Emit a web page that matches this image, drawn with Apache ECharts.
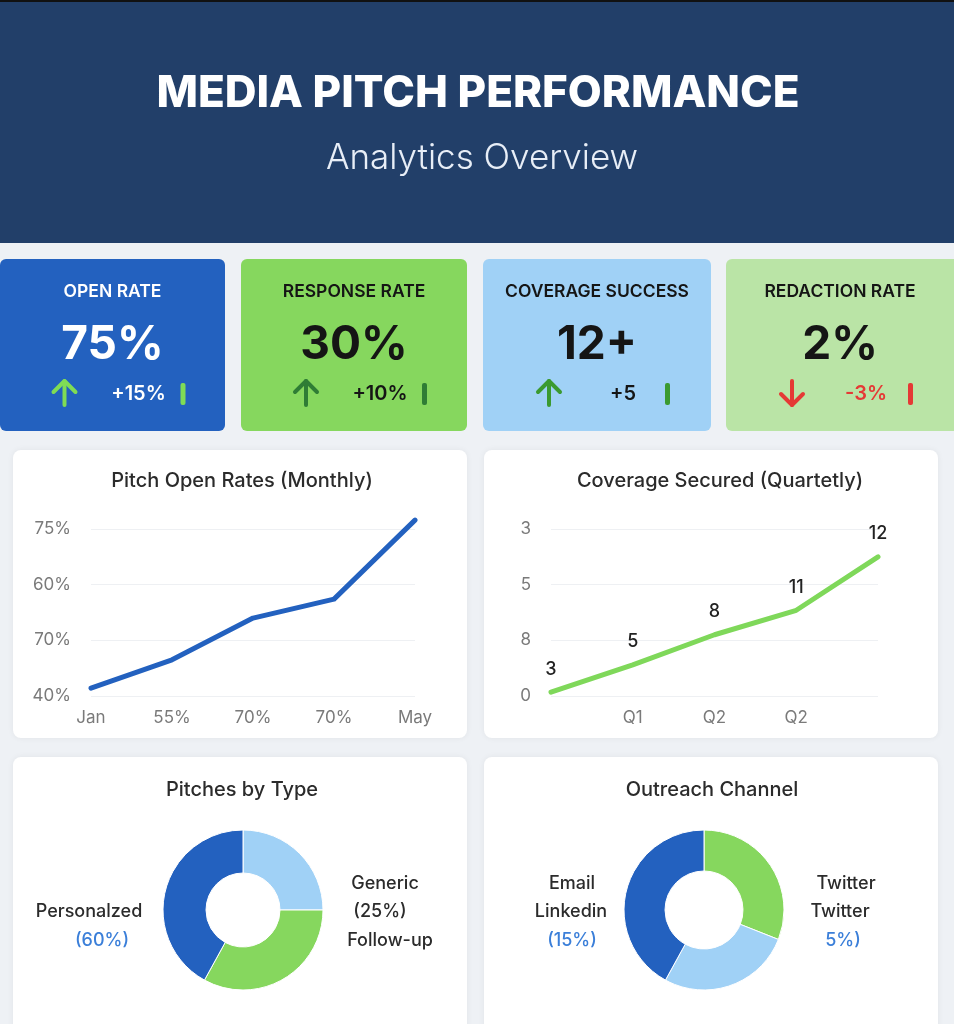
<!DOCTYPE html>
<html>
<head>
<meta charset="utf-8">
<script src="https://cdn.jsdelivr.net/npm/echarts@6/dist/echarts.min.js"></script>
<style>
  html, body { margin: 0; padding: 0; background: #eef1f5; }
  #main { width: 954px; height: 1024px; }
</style>
</head>
<body>
<div id="main"></div>
<script>
// KPI cards
var kpiLabels = ["OPEN RATE", "RESPONSE RATE", "COVERAGE SUCCESS", "REDACTION RATE"];
var kpiValues = ["75%", "30%", "12+", "2%"];
var kpiDeltas = ["+15%", "+10%", "+5", "-3%"];
var kpiUp = [true, true, true, false];

// Pitch Open Rates (Monthly)
var openMonths = ["Jan", "55%", "70%", "70%", "May"];
var openTicks = ["40%", "70%", "60%", "75%"];
var openValues = [0.14, 0.65, 1.4, 1.74, 3.16];

// Coverage Secured (Quartetly)
var coverageQuarters = ["", "Q1", "Q2", "Q2", ""];
var coverageTicks = ["0", "8", "5", "3"];
var coverageValues = [0.07, 0.56, 1.1, 1.54, 2.5];
var coverageLabels = ["3", "5", "8", "11", "12"];

// donuts
var typeNames = ["Generic", "Follow-up", "Personalized"];
var typeValues = [25, 33, 42];
var channelNames = ["Twitter", "LinkedIn", "Email"];
var channelValues = [31, 27, 42];

var FONT = "Inter, 'Noto Sans', sans-serif";
var cards = [
  { x: 0, w: 225, bg: "#2361bf", fg: "#ffffff", arrow: "#7fdc55", delta: "#ffffff", bar: "#7fdc55" },
  { x: 241, w: 226, bg: "#86d75e", fg: "#151515", arrow: "#2f7d35", delta: "#151515", bar: "#2f7d35" },
  { x: 483, w: 228, bg: "#a0d1f6", fg: "#151515", arrow: "#3b9a30", delta: "#151515", bar: "#3b9a30" },
  { x: 726, w: 240, bg: "#bae4a6", fg: "#151515", arrow: "#e53935", delta: "#e53935", bar: "#e53935" }
];

var els = [];
// header
els.push({ type: "rect", z: -10, shape: { x: 0, y: 0, width: 954, height: 243 }, style: { fill: "#223f69" } });
els.push({ type: "rect", z: -9, shape: { x: 0, y: 0, width: 954, height: 2 }, style: { fill: "#111" } });
els.push({ type: "text", x: 478, y: 94, style: { text: "MEDIA PITCH PERFORMANCE", fill: "#fff", font: "800 44px " + FONT, textAlign: "center", textVerticalAlign: "middle" } });
els.push({ type: "text", x: 482, y: 158, style: { text: "Analytics Overview", fill: "#e8eef7", font: "300 35px " + FONT, textAlign: "center", textVerticalAlign: "middle" } });

cards.forEach(function (c, i) {
  var cx = c.x + c.w / 2;
  if (i === 3) cx = 840;
  els.push({ type: "rect", z: -10, shape: { x: c.x, y: 259, width: c.w, height: 172, r: 6 }, style: { fill: c.bg } });
  els.push({ type: "text", x: cx, y: 292, style: { text: kpiLabels[i], fill: c.fg, font: "600 17.5px " + FONT, textAlign: "center", textVerticalAlign: "middle" } });
  els.push({ type: "text", x: cx, y: 345, style: { text: kpiValues[i], fill: c.fg, font: "700 46px " + FONT, textAlign: "center", textVerticalAlign: "middle" } });
  var ax = cx - 48, top = 381, bot = 405;
  var tip = kpiUp[i] ? top : bot, dir = kpiUp[i] ? 1 : -1;
  els.push({ type: "polyline", shape: { points: [[ax, top], [ax, bot]] }, style: { stroke: c.arrow, lineWidth: 4, lineCap: "round" } });
  els.push({ type: "polyline", shape: { points: [[ax - 11, tip + 11 * dir], [ax, tip], [ax + 11, tip + 11 * dir]] }, style: { stroke: c.arrow, lineWidth: 4, lineCap: "round", lineJoin: "round", fill: null } });
  els.push({ type: "text", x: cx + 26, y: 394, style: { text: kpiDeltas[i], fill: c.delta, font: "600 20px " + FONT, textAlign: "center", textVerticalAlign: "middle" } });
  els.push({ type: "rect", shape: { x: cx + 68, y: 383, width: 5, height: 22, r: 2 }, style: { fill: c.bar } });
});

// panels
[[13, 450, 454, 288], [484, 450, 454, 288], [13, 757, 454, 280], [484, 757, 454, 280]].forEach(function (p) {
  els.push({ type: "rect", z: -10, shape: { x: p[0], y: p[1], width: p[2], height: p[3], r: 8 }, style: { fill: "#ffffff", shadowBlur: 6, shadowColor: "rgba(0,0,0,0.06)" } });
});
var panelTitles = [["Pitch Open Rates (Monthly)", 242, 481], ["Coverage Secured (Quartetly)", 720, 481], ["Pitches by Type", 242, 790], ["Outreach Channel", 712, 790]];
panelTitles.forEach(function (t) {
  els.push({ type: "text", x: t[1], y: t[2], style: { text: t[0], fill: "#2b2b2b", font: "500 20px " + FONT, textAlign: "center", textVerticalAlign: "middle" } });
});

// donut side labels
var sideLabels = [
  ["Personalzed", 89, 912, "#2b2b2b"], ["(60%)", 102, 941, "#3b7fd9"],
  ["Generic", 385, 884, "#2b2b2b"], ["(25%)", 380, 912, "#2b2b2b"], ["Follow-up", 390, 941, "#2b2b2b"],
  ["Email", 572, 884, "#2b2b2b"], ["Linkedin", 571, 912, "#2b2b2b"], ["(15%)", 572, 941, "#3b7fd9"],
  ["Twitter", 846, 884, "#2b2b2b"], ["Twitter", 840, 912, "#2b2b2b"], ["5%)", 843, 941, "#3b7fd9"]
];
sideLabels.forEach(function (s) {
  els.push({ type: "text", x: s[1], y: s[2], style: { text: s[0], fill: s[3], font: "500 18px " + FONT, textAlign: "center", textVerticalAlign: "middle" } });
});

function yAxisFor(ticks, gridIndex) {
  return {
    type: "value", gridIndex: gridIndex, min: 0, max: 3, interval: 1,
    axisLine: { show: false }, axisTick: { show: false },
    splitLine: { lineStyle: { color: "#eef0f3", width: 1 } },
    axisLabel: { margin: 20, color: "#7a7a7a", fontSize: 17, fontFamily: FONT, formatter: function (v) { return ticks[Math.round(v)]; } }
  };
}
function xAxisFor(cats, gridIndex) {
  return {
    type: "category", gridIndex: gridIndex, data: cats, boundaryGap: false,
    axisLine: { show: false }, axisTick: { show: false },
    axisLabel: { margin: 13, color: "#7a7a7a", fontSize: 17, fontFamily: FONT, interval: 0 }
  };
}

var chart = echarts.init(document.getElementById("main"));
chart.setOption({
  backgroundColor: "#eef1f5",
  animation: false,
  graphic: { elements: els },
  grid: [
    { left: 91, right: 539, top: 529, bottom: 328 },
    { left: 551, right: 76, top: 529, bottom: 328 }
  ],
  xAxis: [xAxisFor(openMonths, 0), xAxisFor(coverageQuarters, 1)],
  yAxis: [yAxisFor(openTicks, 0), yAxisFor(coverageTicks, 1)],
  series: [
    {
      type: "line", xAxisIndex: 0, yAxisIndex: 0, data: openValues, clip: false,
      symbol: "none", lineStyle: { color: "#2361bf", width: 5, cap: "round", join: "round" }
    },
    {
      type: "line", xAxisIndex: 1, yAxisIndex: 1, data: coverageValues, clip: false,
      symbol: "circle", symbolSize: 0, showSymbol: true,
      itemStyle: { color: "#7fd85a" },
      lineStyle: { color: "#7fd85a", width: 5, cap: "round", join: "round" },
      label: {
        show: true, position: "top", distance: 14, color: "#222", fontSize: 18, fontFamily: FONT, fontWeight: 500,
        formatter: function (p) { return coverageLabels[p.dataIndex]; }
      }
    },
    {
      type: "pie", center: [243, 910], radius: [37, 80], startAngle: 90, label: { show: false },
      itemStyle: { borderColor: "#ffffff", borderWidth: 1 },
      color: ["#a0d1f6", "#86d75e", "#2361bf"],
      data: typeNames.map(function (n, i) { return { name: n, value: typeValues[i] }; })
    },
    {
      type: "pie", center: [704, 910], radius: [39, 80], startAngle: 90, label: { show: false },
      itemStyle: { borderColor: "#ffffff", borderWidth: 1 },
      color: ["#86d75e", "#a0d1f6", "#2361bf"],
      data: channelNames.map(function (n, i) { return { name: n, value: channelValues[i] }; })
    }
  ]
});
</script>
</body>
</html>
